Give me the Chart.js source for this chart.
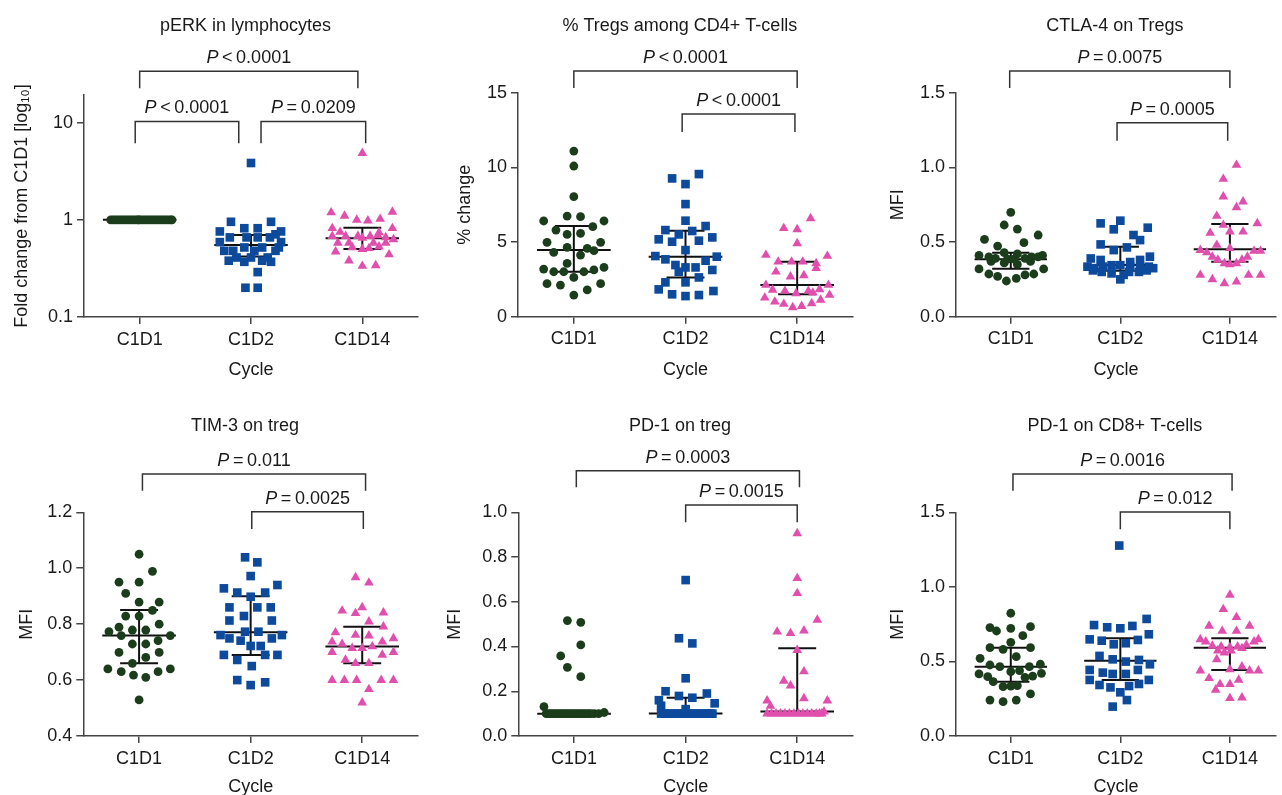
<!DOCTYPE html>
<html>
<head>
<meta charset="utf-8">
<style>
  html, body { margin: 0; padding: 0; background: #fff; overflow: hidden; width: 1282px; height: 795px; }
  #wrap { position: relative; width: 1282px; height: 795px; }
  canvas { position: absolute; }
</style>
<script src="https://cdn.jsdelivr.net/npm/chart.js@4.4.1/dist/chart.umd.min.js"></script>
</head>
<body>
<div id="wrap"></div>
<script>
var categories = ['C1D1', 'C1D2', 'C1D14'];

// every point is [jitter in category units, value]

// pERK in lymphocytes (fold change, log axis)
var perkC1D1 = [[-0.26,1],[-0.24,1],[-0.22,1],[-0.2,1],[-0.18,1],[-0.16,1],[-0.14,1],[-0.12,1],[-0.1,1],[-0.08,1],[-0.06,1],[-0.04,1],[-0.02,1],[0,1],[0.02,1],[0.04,1],[0.06,1],[0.08,1],[0.1,1],[0.12,1],[0.14,1],[0.16,1],[0.18,1],[0.2,1],[0.22,1],[0.24,1],[0.26,1],[0.28,1],[0.29,1],[-0.01,1]];
var perkC1D2 = [[0,3.85],[-0.18,0.955],[0.18,0.955],[-0.06,0.82],[0.06,0.82],[-0.28,0.76],[0.27,0.76],[-0.19,0.66],[-0.04,0.66],[0.06,0.66],[0.17,0.66],[0.22,0.71],[-0.28,0.59],[0.27,0.59],[-0.06,0.52],[0.1,0.52],[0.25,0.52],[-0.24,0.48],[-0.16,0.48],[0.03,0.48],[0.22,0.48],[-0.13,0.41],[0,0.41],[0.15,0.41],[-0.2,0.38],[0.1,0.38],[-0.06,0.37],[0.18,0.37],[0.06,0.29],[-0.05,0.2],[0.06,0.2]];
var perkC1D14 = [[0,4.86],[-0.28,1.19],[-0.16,1.1],[-0.05,1.0],[0.05,0.98],[0.16,1.02],[0.27,1.21],[-0.27,0.82],[0.27,0.82],[-0.2,0.75],[0.15,0.74],[-0.27,0.68],[-0.15,0.68],[-0.04,0.68],[0.07,0.68],[0.14,0.69],[0.21,0.66],[0.28,0.63],[-0.22,0.58],[-0.12,0.58],[0,0.65],[0.1,0.58],[0.21,0.58],[-0.09,0.52],[0,0.5],[0.06,0.51],[0.15,0.53],[-0.24,0.47],[0.24,0.44],[-0.12,0.38],[0,0.335],[0.12,0.34]];
var perkMedian = [1, 0.55, 0.645];
var perkQ1 = [1, 0.42, 0.50];
var perkQ3 = [1, 0.70, 0.83];
var perkTicks = [0.1, 1, 10];

// % Tregs among CD4+ T-cells
var tregC1D1 = [[0,11.09],[0,10.09],[0,8.04],[-0.06,6.74],[0.06,6.7],[-0.27,6.41],[0.27,6.41],[-0.16,5.8],[0.17,6.03],[-0.06,5.51],[0.06,5.58],[-0.24,4.98],[0.24,4.98],[-0.06,4.64],[0.12,4.58],[-0.18,4.31],[0.06,4.13],[0.18,4.42],[-0.06,3.57],[-0.27,3.19],[0.27,3.3],[-0.18,3.01],[-0.09,3.01],[0.09,3.01],[0.18,3.13],[0,2.63],[-0.24,2.21],[-0.12,2.12],[0.24,2.21],[0.12,1.79],[0,1.45]];
var tregC1D2 = [[0.12,9.55],[-0.12,9.26],[0,8.88],[0,7.54],[0,6.43],[0.18,6.07],[-0.18,5.8],[0.06,5.74],[-0.06,5.51],[-0.24,5.18],[0.24,5.31],[-0.12,5.02],[0.12,5.09],[0,4.46],[-0.27,4.06],[0.28,4.02],[-0.18,3.84],[0.18,3.75],[-0.09,3.46],[0,3.3],[0.09,3.3],[-0.06,3.01],[0.24,3.13],[0.12,2.63],[-0.18,2.3],[0,2.3],[-0.24,1.83],[0.25,1.72],[-0.12,1.5],[0,1.38],[0.12,1.45]];
var tregC1D14 = [[0.12,6.58],[-0.12,5.92],[0,5.85],[0,4.91],[-0.28,4.13],[0.27,4.06],[-0.17,3.68],[-0.05,3.68],[0.05,3.68],[0.17,3.57],[0.17,3.24],[-0.19,3.01],[-0.06,2.68],[0.06,2.77],[-0.28,2.12],[0.28,2.12],[-0.22,1.79],[-0.11,1.72],[-0.01,1.56],[0.1,1.72],[0.2,1.83],[0.14,1.6],[-0.29,1.27],[0.29,1.45],[-0.2,1.0],[0.21,1.12],[-0.12,0.85],[0.13,0.89],[-0.04,0.62],[0.04,0.71]];
var tregMedian = [4.46, 4.02, 2.12];
var tregQ1 = [3.01, 2.63, 1.50];
var tregQ3 = [6.07, 5.76, 3.68];

// CTLA-4 on Tregs (MFI)
var ctlaC1D1 = [[0,0.699],[-0.06,0.614],[0.06,0.587],[-0.24,0.518],[0.25,0.547],[-0.12,0.473],[0.12,0.496],[-0.06,0.429],[0.06,0.42],[-0.29,0.41],[-0.2,0.4],[0.19,0.4],[0.29,0.41],[-0.14,0.39],[-0.03,0.385],[0.03,0.385],[0.13,0.39],[0.25,0.4],[-0.06,0.36],[0.06,0.35],[-0.18,0.37],[0.18,0.37],[-0.29,0.32],[0.3,0.32],[-0.2,0.286],[0.21,0.286],[-0.12,0.27],[0.13,0.28],[-0.04,0.239],[0.05,0.257]];
var ctlaC1D2 = [[-0.18,0.625],[0,0.643],[0.25,0.596],[-0.06,0.585],[0.12,0.547],[0.18,0.513],[-0.18,0.484],[0.06,0.464],[-0.06,0.446],[0.27,0.402],[0.18,0.38],[-0.27,0.39],[-0.18,0.38],[0.09,0.366],[-0.3,0.335],[-0.24,0.325],[-0.16,0.335],[-0.08,0.345],[0,0.345],[0.09,0.335],[0.18,0.33],[0.26,0.335],[0.3,0.325],[-0.17,0.3],[-0.08,0.29],[0,0.25],[0.08,0.3],[0.17,0.3],[-0.25,0.31],[0.24,0.31],[0.03,0.28]];
var ctlaC1D14 = [[0.06,1.016],[-0.06,0.922],[-0.06,0.804],[0.12,0.77],[0.06,0.732],[-0.12,0.674],[0.25,0.625],[-0.06,0.614],[0.12,0.569],[-0.18,0.56],[0,0.57],[-0.12,0.48],[0,0.458],[-0.27,0.446],[-0.21,0.43],[0.22,0.44],[0.28,0.44],[-0.16,0.4],[0.16,0.4],[-0.11,0.38],[-0.05,0.357],[0,0.35],[0.06,0.357],[0.11,0.38],[-0.27,0.279],[0.17,0.279],[0.28,0.279],[-0.16,0.25],[-0.05,0.223],[0.06,0.234]];
var ctlaMedian = [0.384, 0.346, 0.451];
var ctlaQ1 = [0.321, 0.308, 0.368];
var ctlaQ3 = [0.429, 0.469, 0.62];

// TIM-3 on treg (MFI)
var timC1D1 = [[0,1.05],[0.12,0.989],[-0.18,0.95],[0,0.95],[-0.12,0.91],[0,0.879],[0.18,0.879],[0.12,0.849],[-0.12,0.829],[0,0.829],[0.18,0.8],[-0.27,0.773],[-0.18,0.789],[-0.06,0.779],[0.06,0.779],[-0.16,0.759],[0.28,0.759],[-0.06,0.729],[0.06,0.729],[0.17,0.741],[-0.18,0.699],[0.18,0.699],[-0.06,0.66],[0.06,0.681],[-0.28,0.64],[0.28,0.64],[-0.16,0.63],[-0.05,0.618],[0.06,0.61],[0.17,0.63],[0,0.529]];
var timC1D2 = [[-0.05,1.039],[0.06,1.021],[0,0.972],[-0.24,0.928],[0.24,0.94],[-0.12,0.913],[0,0.898],[0.13,0.913],[-0.19,0.86],[0.06,0.86],[0.18,0.86],[-0.06,0.829],[-0.19,0.813],[0.19,0.813],[-0.05,0.773],[0.07,0.773],[-0.27,0.761],[0.28,0.761],[-0.19,0.749],[0.19,0.749],[-0.09,0.741],[0,0.722],[0.09,0.722],[-0.24,0.69],[0.13,0.69],[0.24,0.69],[-0.12,0.672],[0.01,0.65],[-0.12,0.6],[0.13,0.592],[0,0.582]];
var timC1D14 = [[-0.06,0.967],[0.06,0.948],[-0.18,0.848],[-0.06,0.839],[0,0.86],[0.19,0.841],[0.06,0.809],[0.19,0.791],[-0.24,0.77],[-0.06,0.761],[0.06,0.759],[0.28,0.749],[-0.27,0.737],[-0.18,0.729],[0.18,0.737],[-0.09,0.714],[0,0.714],[0.09,0.72],[-0.27,0.7],[0.28,0.7],[-0.15,0.672],[0.18,0.69],[-0.06,0.66],[0.06,0.66],[-0.27,0.6],[-0.16,0.6],[-0.05,0.6],[0.17,0.6],[0.28,0.6],[0.06,0.567],[0,0.519]];
var timMedian = [0.759, 0.771, 0.72];
var timQ1 = [0.66, 0.69, 0.66];
var timQ3 = [0.851, 0.90, 0.791];

// PD-1 on treg (MFI)
var pdtC1D1 = [[-0.06,0.516],[0.06,0.508],[0.06,0.407],[-0.12,0.358],[-0.06,0.307],[0.06,0.265],[-0.27,0.131],[-0.25,0.1],[-0.23,0.1],[-0.21,0.1],[-0.19,0.1],[-0.17,0.1],[-0.15,0.1],[-0.13,0.1],[-0.11,0.1],[-0.09,0.1],[-0.07,0.1],[-0.05,0.1],[-0.03,0.1],[-0.01,0.1],[0.01,0.1],[0.03,0.1],[0.05,0.1],[0.07,0.1],[0.09,0.1],[0.11,0.1],[0.13,0.1],[0.15,0.1],[0.18,0.1],[0.22,0.1],[0.27,0.105]];
var pdtC1D2 = [[0,0.697],[-0.06,0.437],[0.06,0.414],[0,0.258],[-0.18,0.2],[0.19,0.19],[-0.06,0.179],[0.06,0.171],[-0.24,0.16],[0.26,0.146],[-0.22,0.135],[-0.22,0.1],[-0.19,0.1],[-0.16,0.1],[-0.13,0.1],[-0.1,0.1],[-0.07,0.1],[-0.04,0.1],[-0.01,0.1],[0.02,0.1],[0.05,0.1],[0.08,0.1],[0.11,0.1],[0.14,0.1],[0.17,0.1],[0.2,0.1],[0.22,0.1],[0.24,0.1],[0,0.12]];
var pdtC1D14 = [[0,0.906],[0,0.705],[0,0.638],[0.18,0.519],[-0.18,0.466],[-0.06,0.459],[0.06,0.471],[0,0.384],[0.06,0.288],[-0.12,0.246],[-0.06,0.225],[0.06,0.168],[-0.27,0.158],[0.27,0.158],[-0.24,0.134],[0.24,0.109],[-0.27,0.1],[-0.23,0.1],[-0.19,0.1],[-0.15,0.1],[-0.11,0.1],[-0.07,0.1],[-0.03,0.1],[0.01,0.1],[0.05,0.1],[0.09,0.1],[0.13,0.1],[0.17,0.1],[0.2,0.1],[0.22,0.1]];
var pdtMedian = [0.10, 0.101, 0.109];
var pdtQ1 = [0.10, 0.10, 0.10];
var pdtQ3 = [0.10, 0.171, 0.392];

// PD-1 on CD8+ T-cells (MFI)
var pdcC1D1 = [[0,0.823],[-0.19,0.727],[-0.13,0.704],[0,0.722],[0.18,0.733],[0.11,0.673],[0,0.628],[-0.19,0.592],[-0.07,0.581],[0.18,0.592],[0.05,0.532],[-0.28,0.521],[-0.19,0.476],[-0.1,0.465],[0.17,0.465],[0.27,0.481],[0,0.431],[0.08,0.438],[-0.29,0.416],[-0.21,0.398],[0.13,0.393],[0.2,0.402],[0.28,0.42],[-0.16,0.364],[-0.07,0.331],[0,0.335],[0.06,0.338],[0.18,0.282],[-0.19,0.241],[-0.07,0.23],[0.05,0.241]];
var pdcC1D2 = [[-0.01,1.277],[0.24,0.785],[-0.24,0.744],[-0.12,0.729],[0,0.722],[0.11,0.738],[0.26,0.682],[-0.28,0.648],[-0.17,0.639],[-0.06,0.615],[0.05,0.622],[0.16,0.644],[-0.19,0.537],[-0.07,0.514],[0.05,0.499],[0.17,0.51],[0.27,0.481],[-0.28,0.443],[-0.16,0.425],[-0.07,0.416],[0.05,0.416],[0.16,0.443],[-0.28,0.376],[0.26,0.376],[-0.19,0.342],[-0.09,0.326],[0.08,0.335],[0.17,0.349],[0,0.293],[0.06,0.241],[-0.07,0.197]];
var pdcC1D14 = [[0,0.946],[-0.06,0.85],[0.06,0.796],[-0.19,0.738],[-0.07,0.704],[0.06,0.704],[0.18,0.738],[-0.27,0.648],[-0.22,0.633],[-0.16,0.604],[-0.08,0.599],[0,0.595],[0.07,0.599],[0.15,0.61],[0.22,0.633],[0.26,0.648],[-0.11,0.572],[-0.05,0.559],[0.01,0.572],[0.11,0.588],[-0.12,0.514],[0,0.447],[0.11,0.465],[-0.27,0.438],[0.18,0.438],[0.26,0.438],[-0.19,0.387],[0.08,0.376],[-0.09,0.347],[0,0.347],[-0.13,0.309],[0,0.253],[0.11,0.257]];
var pdcMedian = [0.465, 0.505, 0.592];
var pdcQ1 = [0.364, 0.376, 0.443];
var pdcQ3 = [0.592, 0.655, 0.655];

// significance brackets: group span, bar height and leg end in axis units
var perkBrackets = [
    { from: 0, to: 1.96, y: 33.8, leg: 22.6, text: '< 0.0001' },
    { from: -0.04, to: 0.89, y: 10.3, leg: 6.14, text: '< 0.0001' },
    { from: 1.09, to: 2.03, y: 10.3, leg: 6.14, text: '= 0.0209' }
];
var tregBrackets = [
    { from: 0, to: 2.0, y: 16.45, leg: 15.31, text: '< 0.0001' },
    { from: 0.97, to: 1.98, y: 13.57, leg: 12.37, text: '< 0.0001' }
];
var ctlaBrackets = [
    { from: -0.01, to: 2.0, y: 1.645, leg: 1.532, text: '= 0.0075' },
    { from: 0.97, to: 1.98, y: 1.299, leg: 1.179, text: '= 0.0005' }
];
var timBrackets = [
    { from: 0.03, to: 2.03, y: 1.337, leg: 1.277, text: '= 0.011' },
    { from: 1.01, to: 2.01, y: 1.202, leg: 1.140, text: '= 0.0025' }
];
var pdtBrackets = [
    { from: 0.02, to: 2.02, y: 1.186, leg: 1.112, text: '= 0.0003' },
    { from: 1.0, to: 2.0, y: 1.033, leg: 0.955, text: '= 0.0015' }
];
var pdcBrackets = [
    { from: 0.02, to: 2.02, y: 1.757, leg: 1.645, text: '= 0.0016' },
    { from: 1.0, to: 2.0, y: 1.502, leg: 1.386, text: '= 0.012' }
];

var FONT = '"Liberation Sans", Arial, Helvetica, sans-serif';
var INK = '#1a1a1a';
var AXIS = '#444';
var styles = [
    { color: '#1b3d1b', shape: 'circle', r: 4.4 },
    { color: '#0d4a9c', shape: 'rect', r: 6.1 },
    { color: '#e04fae', shape: 'triangle', r: 5.6 }
];

var panels = [
    { title: 'pERK in lymphocytes', yTitle: 'Fold change from C1D1 [log\u2081\u2080]',
      groups: [perkC1D1, perkC1D2, perkC1D14], med: perkMedian, q1: perkQ1, q3: perkQ3, brackets: perkBrackets,
      log: true, yMin: 0.1, yMax: 19.3, ticks: perkTicks,
      box: { left: 0, top: 0, w: 430, h: 397, axisW: 84, padTop: 95, padRight: 12, axisH: 80, xMax: 2.5, yTitlePad: 11, xTitlePad: 16, titleY: 31 } },
    { title: '% Tregs among CD4+ T-cells', yTitle: '% change',
      groups: [tregC1D1, tregC1D2, tregC1D14], med: tregMedian, q1: tregQ1, q3: tregQ3, brackets: tregBrackets,
      yMin: 0, yMax: 15, step: 5, dec: 0,
      box: { left: 430, top: 0, w: 430, h: 397, axisW: 88, padTop: 92.7, padRight: 7, axisH: 80.3, xMax: 2.5, yTitlePad: 24, xTitlePad: 16, titleY: 31 } },
    { title: 'CTLA-4 on Tregs', yTitle: 'MFI',
      groups: [ctlaC1D1, ctlaC1D2, ctlaC1D14], med: ctlaMedian, q1: ctlaQ1, q3: ctlaQ3, brackets: ctlaBrackets,
      yMin: 0, yMax: 1.5, step: 0.5, dec: 1,
      box: { left: 860, top: 0, w: 422, h: 397, axisW: 96, padTop: 92.7, padRight: 0, axisH: 80.3, xMax: 2.42, yTitlePad: 27.5, xTitlePad: 16, titleY: 31 } },
    { title: 'TIM-3 on treg', yTitle: 'MFI',
      groups: [timC1D1, timC1D2, timC1D14], med: timMedian, q1: timQ1, q3: timQ3, brackets: timBrackets,
      yMin: 0.4, yMax: 1.2, step: 0.2, dec: 1,
      box: { left: 0, top: 397, w: 430, h: 410, axisW: 83.3, padTop: 115.3, padRight: 12, axisH: 71, xMax: 2.5, yTitlePad: 16, xTitlePad: 9, titleY: 34 } },
    { title: 'PD-1 on treg', yTitle: 'MFI',
      groups: [pdtC1D1, pdtC1D2, pdtC1D14], med: pdtMedian, q1: pdtQ1, q3: pdtQ3, brackets: pdtBrackets,
      yMin: 0, yMax: 1.0, step: 0.2, dec: 1,
      box: { left: 430, top: 397, w: 430, h: 410, axisW: 88.3, padTop: 115.3, padRight: 7, axisH: 71, xMax: 2.5, yTitlePad: 14, xTitlePad: 9, titleY: 34 } },
    { title: 'PD-1 on CD8+ T-cells', yTitle: 'MFI',
      groups: [pdcC1D1, pdcC1D2, pdcC1D14], med: pdcMedian, q1: pdcQ1, q3: pdcQ3, brackets: pdcBrackets,
      yMin: 0, yMax: 1.5, step: 0.5, dec: 1,
      box: { left: 860, top: 397, w: 422, h: 410, axisW: 96, padTop: 115.3, padRight: 0, axisH: 71, xMax: 2.42, yTitlePad: 27.5, xTitlePad: 9, titleY: 34 } }
];

function line(ctx, x1, y1, x2, y2) {
    ctx.beginPath();
    ctx.moveTo(x1, y1);
    ctx.lineTo(x2, y2);
    ctx.stroke();
}

// median + interquartile range, title and p-value brackets
function decor(p) {
    return {
        id: 'decor',
        beforeDatasetsDraw: function (chart) {
            var ctx = chart.ctx, xs = chart.scales.x, ys = chart.scales.y;
            ctx.save();
            ctx.strokeStyle = '#111';
            ctx.lineWidth = 2;
            for (var g = 0; g < 3; g++) {
                var ym = ys.getPixelForValue(p.med[g]);
                line(ctx, xs.getPixelForValue(g - 0.33), ym, xs.getPixelForValue(g + 0.33), ym);
                if (p.q3[g] > p.q1[g]) {
                    var y1 = ys.getPixelForValue(p.q1[g]), y3 = ys.getPixelForValue(p.q3[g]);
                    var xc = xs.getPixelForValue(g);
                    line(ctx, xc, y1, xc, y3);
                    line(ctx, xs.getPixelForValue(g - 0.17), y1, xs.getPixelForValue(g + 0.17), y1);
                    line(ctx, xs.getPixelForValue(g - 0.17), y3, xs.getPixelForValue(g + 0.17), y3);
                }
            }
            ctx.restore();
        },
        afterDraw: function (chart) {
            var ctx = chart.ctx, xs = chart.scales.x, ys = chart.scales.y;
            ctx.save();
            ctx.fillStyle = INK;
            ctx.font = '18px ' + FONT;
            ctx.textAlign = 'center';
            ctx.textBaseline = 'alphabetic';
            ctx.fillText(p.title, xs.getPixelForValue(0.95), p.box.titleY);

            ctx.strokeStyle = '#333';
            ctx.lineWidth = 1.5;
            p.brackets.forEach(function (b) {
                var xa = xs.getPixelForValue(b.from), xb = xs.getPixelForValue(b.to);
                var yb = ys.getPixelForValue(b.y), yl = ys.getPixelForValue(b.leg);
                ctx.beginPath();
                ctx.moveTo(xa, yl);
                ctx.lineTo(xa, yb);
                ctx.lineTo(xb, yb);
                ctx.lineTo(xb, yl);
                ctx.stroke();

                ctx.textAlign = 'left';
                ctx.font = 'italic 18px ' + FONT;
                var wp = ctx.measureText('P').width;
                ctx.font = '18px ' + FONT;
                var rest = '\u2009' + b.text.replace(' ', '\u2009');
                var wr = ctx.measureText(rest).width;
                var x0 = (xa + xb) / 2 - (wp + wr) / 2;
                ctx.font = 'italic 18px ' + FONT;
                ctx.fillText('P', x0, yb - 8);
                ctx.font = '18px ' + FONT;
                ctx.fillText(rest, x0 + wp, yb - 8);
            });
            ctx.restore();
        }
    };
}

var wrap = document.getElementById('wrap');

panels.forEach(function (p) {
    var b = p.box;
    var can = document.createElement('canvas');
    can.width = b.w;
    can.height = b.h;
    can.style.left = b.left + 'px';
    can.style.top = b.top + 'px';
    wrap.appendChild(can);

    var datasets = p.groups.map(function (pts, g) {
        var s = styles[g];
        return {
            label: categories[g],
            data: pts.map(function (d) { return { x: g + d[0], y: d[1] }; }),
            pointStyle: s.shape,
            pointRadius: s.r,
            pointHoverRadius: s.r,
            pointBackgroundColor: s.color,
            pointBorderColor: s.color,
            pointBorderWidth: 0,
            showLine: false,
            clip: false
        };
    });

    var yScale = {
        type: p.log ? 'logarithmic' : 'linear',
        min: p.yMin,
        max: p.yMax,
        border: { display: true, color: AXIS, width: 1.5 },
        grid: { drawOnChartArea: false, drawTicks: true, tickLength: 7, color: AXIS, lineWidth: 1.5 },
        ticks: {
            color: INK,
            padding: 4,
            font: { family: FONT, size: 18 },
            callback: function (v) { return p.log ? String(v) : Number(v).toFixed(p.dec); }
        },
        title: { display: true, text: p.yTitle, color: INK, font: { family: FONT, size: 18 }, padding: { top: b.yTitlePad, bottom: 0 } },
        afterFit: function (s) { s.width = b.axisW; }
    };
    if (p.log) {
        yScale.afterBuildTicks = function (s) { s.ticks = p.ticks.map(function (v) { return { value: v }; }); };
    } else {
        yScale.ticks.stepSize = p.step;
    }

    new Chart(can.getContext('2d'), {
        type: 'scatter',
        data: { datasets: datasets },
        options: {
            responsive: false,
            animation: false,
            layout: { padding: { top: b.padTop, right: b.padRight, left: 0, bottom: 0 } },
            plugins: { legend: { display: false }, tooltip: { enabled: false } },
            scales: {
                x: {
                    type: 'linear',
                    min: -0.5,
                    max: b.xMax,
                    afterBuildTicks: function (s) { s.ticks = [0, 1, 2].map(function (v) { return { value: v }; }); },
                    border: { display: true, color: AXIS, width: 1.5 },
                    grid: { drawOnChartArea: false, drawTicks: true, tickLength: 7, color: AXIS, lineWidth: 1.5 },
                    ticks: {
                        color: INK,
                        padding: 5,
                        maxRotation: 0,
                        autoSkip: false,
                        font: { family: FONT, size: 18 },
                        callback: function (v) { return categories[v]; }
                    },
                    title: { display: true, text: 'Cycle', color: INK, font: { family: FONT, size: 18 }, padding: { top: 0, bottom: b.xTitlePad } },
                    afterFit: function (s) { s.height = b.axisH; }
                },
                y: yScale
            }
        },
        plugins: [decor(p)]
    });
});
</script>
</body>
</html>
